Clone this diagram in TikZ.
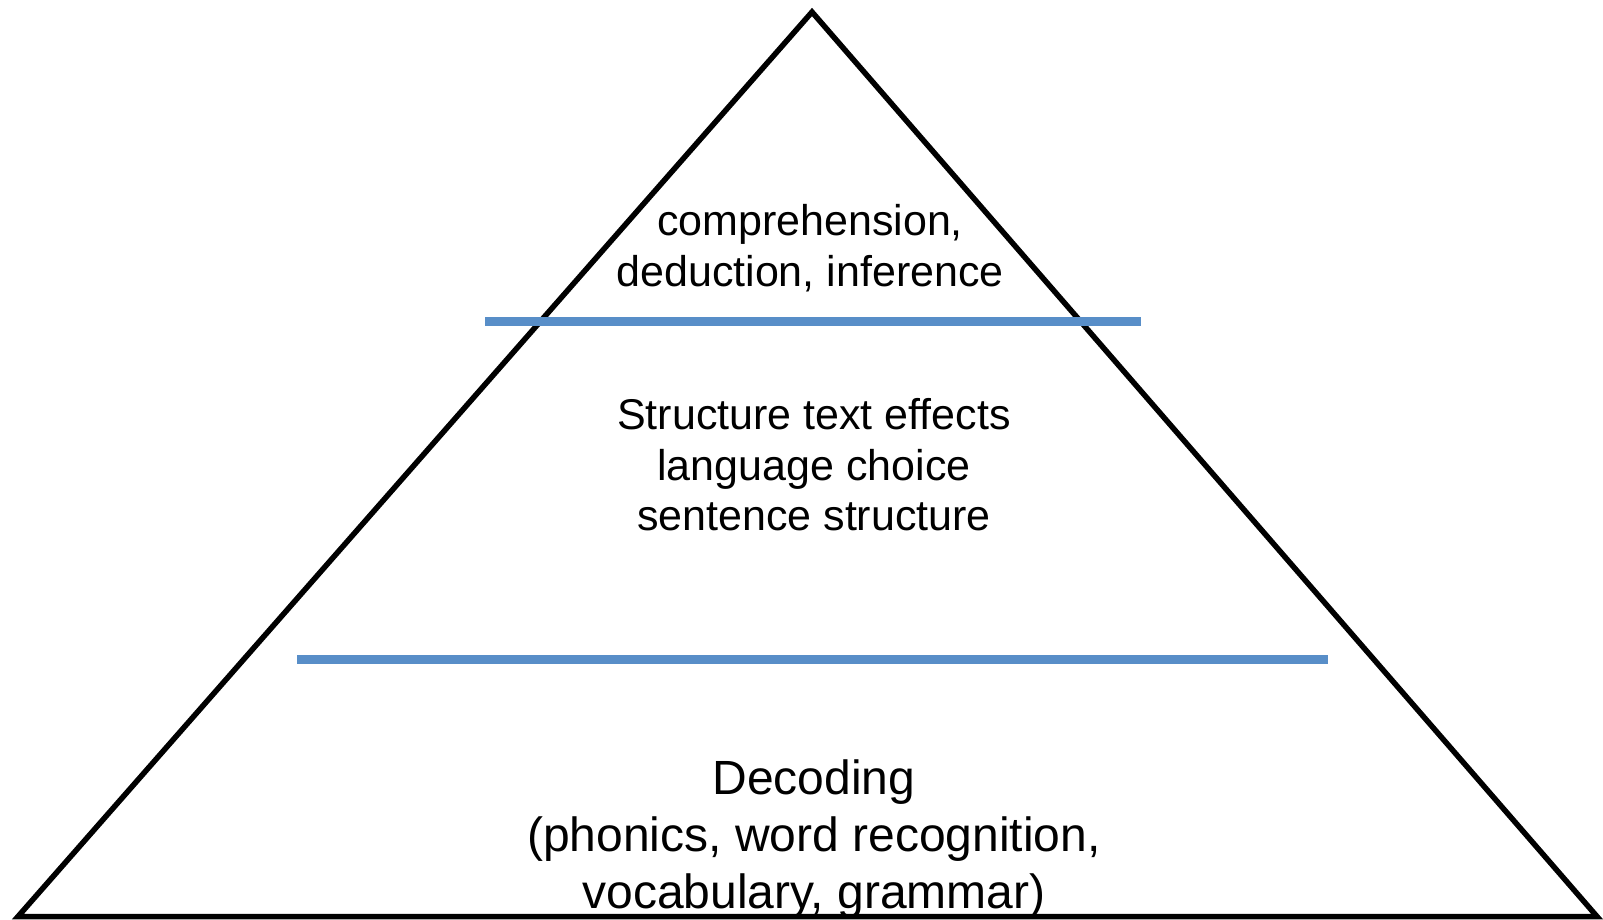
\documentclass[tikz,border=0pt]{standalone}
\usepackage{fontspec}
\setmainfont{Liberation Sans}
\usetikzlibrary{positioning}
\definecolor{band_blue}{RGB}{88,142,200}

\begin{document}
\begin{tikzpicture}[x=1pt, y=-1pt,
    band/.style={draw=band_blue, line width=8.5pt},
    tier/.style={align=center, inner sep=0pt}]
  \useasboundingbox (0,0) rectangle (1603,919);
  % Pyramid outline
  \coordinate (apex) at (812,12);
  \coordinate (baseL) at (18,916.5);
  \coordinate (baseR) at (1597,916.5);
  \draw[line width=5.5pt, line join=miter] (apex) -- (baseL) -- (baseR) -- cycle;
  % Dividers between the tiers
  \coordinate (upL) at (485,321.5);
  \coordinate (upR) at (1141,321.5);
  \coordinate (lowL) at (297,659.5);
  \coordinate (lowR) at (1328,659.5);
  \draw[band] (upL) -- (upR);
  \draw[band] (lowL) -- (lowR);
  % Tier labels
  \node[tier, font=\fontsize{43}{51}\selectfont] (top) at (810,248)
    {comprehension,\\deduction, inference};
  \node[tier, font=\fontsize{43}{50.5}\selectfont] (mid) at (814,465)
    {Structure text effects\\language choice\\sentence structure};
  \node[tier, font=\fontsize{48}{57}\selectfont] (base) at (814,839)
    {Decoding\\(phonics, word recognition,\\vocabulary, grammar)};
\end{tikzpicture}
\end{document}
